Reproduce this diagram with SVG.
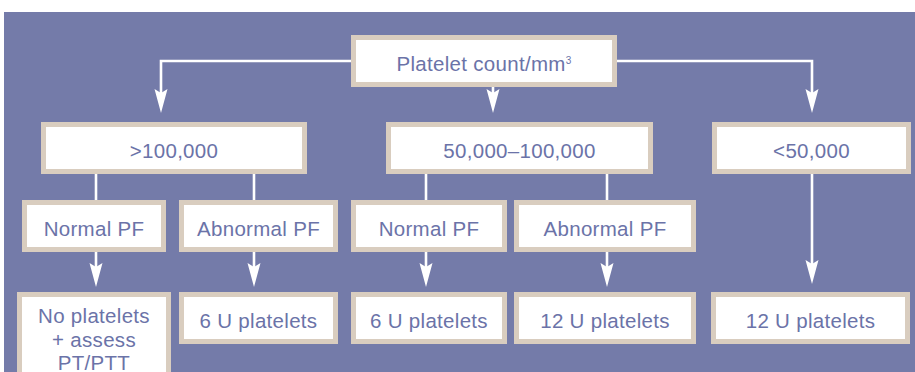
<svg xmlns="http://www.w3.org/2000/svg" width="915" height="372" viewBox="0 0 915 372">
<defs>
<style>
.bg{fill:#747ba9}
.box{fill:#ffffff;stroke:#d9cdbf;stroke-width:5}
.t{font-family:"Liberation Sans",Arial,sans-serif;font-size:20.5px;fill:#6b73a8;text-anchor:middle;letter-spacing:0.3px}
.ln{stroke:#ffffff;stroke-width:2.6;fill:none}
.ah{fill:#ffffff}
</style>
<path id="head" class="ah" d="M-6.5,-24 L0,0 L6.5,-24 L0,-20 Z"/>
</defs>
<rect x="0" y="0" width="915" height="372" fill="#ffffff"/>
<rect class="bg" x="4" y="12" width="911" height="360"/>

<g id="connectors">
<path class="ln" d="M351,61 H161 V100"/>
<use href="#head" x="161" y="113"/>
<path class="ln" d="M617,61 H812 V100"/>
<use href="#head" x="812" y="113"/>
<path class="ln" d="M493,87 V100"/>
<use href="#head" x="493" y="113"/>
<path class="ln" d="M96,174 V200"/>
<path class="ln" d="M254,174 V200"/>
<path class="ln" d="M426,174 V200"/>
<path class="ln" d="M607,174 V200"/>
<path class="ln" d="M96,252 V275"/>
<use href="#head" x="96" y="287"/>
<path class="ln" d="M254,252 V275"/>
<use href="#head" x="254" y="287"/>
<path class="ln" d="M426,252 V275"/>
<use href="#head" x="426" y="287"/>
<path class="ln" d="M607,252 V275"/>
<use href="#head" x="607" y="287"/>
<path class="ln" d="M812,174 V272"/>
<use href="#head" x="812" y="284"/>
</g>

<g id="root">
<rect class="box" x="353.5" y="37.5" width="261" height="47"/>
<text class="t" x="484" y="70.5">Platelet count/mm<tspan font-size="10" dy="-7">3</tspan></text>
</g>

<g id="gt100k">
<rect class="box" x="43.5" y="124.5" width="261" height="47"/>
<text class="t" x="174" y="157.5">&gt;100,000</text>
</g>
<g id="mid">
<rect class="box" x="388.5" y="124.5" width="262" height="47"/>
<text class="t" x="519.5" y="157.5">50,000–100,000</text>
</g>
<g id="lt50k">
<rect class="box" x="714.5" y="124.5" width="194" height="47"/>
<text class="t" x="811.5" y="157.5">&lt;50,000</text>
</g>

<g id="normal1">
<rect class="box" x="24.5" y="202.5" width="139" height="47"/>
<text class="t" x="94" y="235.5">Normal PF</text>
</g>
<g id="abnormal1">
<rect class="box" x="181.5" y="202.5" width="154" height="47"/>
<text class="t" x="258.5" y="235.5">Abnormal PF</text>
</g>
<g id="normal2">
<rect class="box" x="353.5" y="202.5" width="151" height="47"/>
<text class="t" x="429" y="235.5">Normal PF</text>
</g>
<g id="abnormal2">
<rect class="box" x="516.5" y="202.5" width="177" height="47"/>
<text class="t" x="605" y="235.5">Abnormal PF</text>
</g>

<g id="noplatelets">
<rect class="box" x="19.5" y="294.5" width="149" height="90"/>
<text class="t" x="94" y="322.5">No platelets</text>
<text class="t" x="94" y="346.5">+ assess</text>
<text class="t" x="94" y="370">PT/PTT</text>
</g>
<g id="six1">
<rect class="box" x="181.5" y="294.5" width="154" height="47"/>
<text class="t" x="258.5" y="327.5">6 U platelets</text>
</g>
<g id="six2">
<rect class="box" x="353.5" y="294.5" width="151" height="47"/>
<text class="t" x="429" y="327.5">6 U platelets</text>
</g>
<g id="twelve1">
<rect class="box" x="516.5" y="294.5" width="177" height="47"/>
<text class="t" x="605" y="327.5">12 U platelets</text>
</g>
<g id="twelve2">
<rect class="box" x="713.5" y="294.5" width="194" height="47"/>
<text class="t" x="810.5" y="327.5">12 U platelets</text>
</g>
</svg>
